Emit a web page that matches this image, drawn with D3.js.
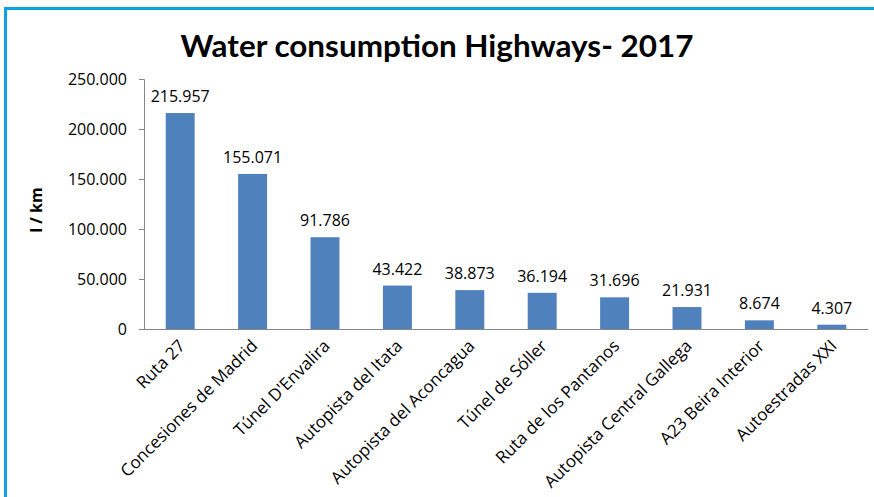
<!DOCTYPE html>
<html><head><meta charset="utf-8">
<script src="https://cdn.jsdelivr.net/npm/d3@7"></script>
<style>body{margin:0;background:#fff}svg{display:block}</style>
</head><body>
<script>
const categories = ["Ruta 27","Concesiones de Madrid","Túnel D'Envalira","Autopista del Itata","Autopista del Aconcagua","Túnel de Sóller","Ruta de los Pantanos","Autopista Central Gallega","A23 Beira Interior","Autoestradas XXI"];
const values = [215957,155071,91786,43422,38873,36194,31696,21931,8674,4307];
const yTicks = [0,50000,100000,150000,200000,250000];
const titleText = "Water consumption Highways- 2017";
const yLabel = "l / km";

const W=874,H=497;
const svg=d3.select("body").append("svg").attr("width",W).attr("height",H);
const font="'Open Sans', sans-serif";
const tfont="Lato, sans-serif";
svg.append("path").attr("d","M5.5,497 V8.5 H874").attr("fill","none").attr("stroke","#0AA2E2").attr("stroke-width",3);

const x=d3.scaleBand().domain(categories).range([144,868]).paddingInner(0.6).paddingOuter(0.3);
const y=d3.scaleLinear().domain([0,250000]).range([329,79]);
const fmt=v=>d3.format(",")(v).replace(/,/g,".");

svg.append("text").attr("x",437).attr("y",57).attr("text-anchor","middle")
  .attr("font-family",tfont).attr("font-weight","bold").attr("font-size",31).attr("fill","#000")
  .attr("textLength",513).attr("lengthAdjust","spacingAndGlyphs").text(titleText);

const ya=svg.append("g").attr("transform","translate(144,0)")
  .call(d3.axisLeft(y).tickValues(yTicks).tickSize(5).tickPadding(12).tickFormat(v=>fmt(v)));
ya.select(".domain").attr("stroke","#868686");
ya.selectAll(".tick line").attr("stroke","#868686");
ya.selectAll("text").attr("font-family",font).attr("font-size",16).attr("fill","#000");

svg.append("g").selectAll("rect").data(values).join("rect")
  .attr("x",(d,i)=>x(categories[i])).attr("width",x.bandwidth())
  .attr("y",d=>y(d)).attr("height",d=>y(0)-y(d)).attr("fill","#4F81BD");

svg.append("g").selectAll("text").data(values).join("text")
  .attr("x",(d,i)=>x(categories[i])+x.bandwidth()/2).attr("y",d=>y(d)-11)
  .attr("text-anchor","middle").attr("font-family",font).attr("font-size",16).attr("fill","#000")
  .text(d=>fmt(d));

const xa=svg.append("g").attr("transform","translate(0,329)")
  .call(d3.axisBottom(x).tickSize(0).tickSizeOuter(0));
xa.select(".domain").attr("stroke","#868686").attr("d","M144,0.5H868");
xa.selectAll(".tick text").attr("font-family",font).attr("font-size",17).attr("fill","#000")
  .attr("text-anchor","end").attr("dy",0).attr("y",0)
  .attr("transform","translate(6,18) rotate(-45)");

svg.append("text").attr("transform","translate(42,210) rotate(-90)").attr("text-anchor","middle")
  .attr("font-family",font).attr("font-weight","bold").attr("font-size",16).text(yLabel);
</script>
</body></html>
